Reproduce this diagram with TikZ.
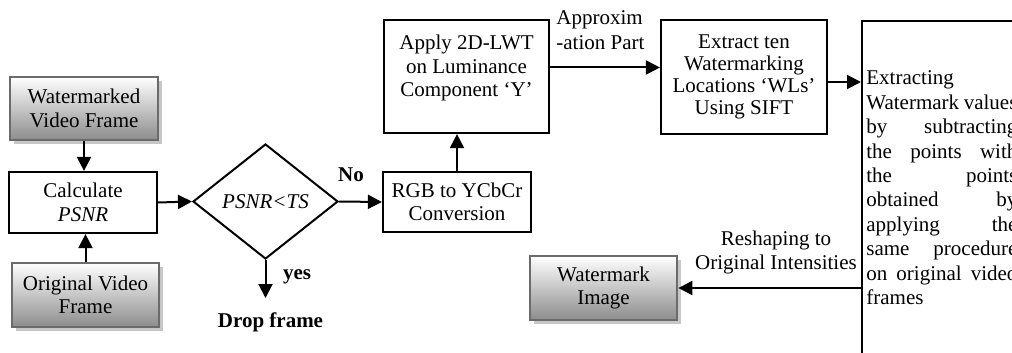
\documentclass[tikz,border=0pt]{standalone}
\usepackage{fontspec}
\setmainfont{Liberation Serif}
\usepackage{tikz}
\usetikzlibrary{arrows.meta}
\usetikzlibrary{shapes.geometric}
\usetikzlibrary{shadows}

\begin{document}
\begin{tikzpicture}[x=0.5pt, y=-0.5pt,
    font=\fontsize{10.5}{11.8}\selectfont,
    arr/.style={line width=1pt, -{Triangle[length=7pt, width=7pt]}},
    plainbox/.style={draw, line width=1.1pt, align=center, inner sep=0pt},
    greybox/.style={draw=black!58, line width=1.4pt, align=center, inner sep=0pt,
      top color=white, bottom color=black!45,
      drop shadow={shadow xshift=2pt, shadow yshift=-2pt, fill=black!22, opacity=1}}]

    \useasboundingbox (0, 0) rectangle (1012, 353);

    % input frames and the PSNR test
    \node [greybox, minimum width=74pt, minimum height=31.5pt] (wvf) at (84, 108.5) {Watermarked\\Video Frame};
    \node [plainbox, minimum width=74pt, minimum height=30.5pt] (calc) at (83, 202.5) {Calculate\\\textit{PSNR}};
    \node [greybox, minimum width=73.5pt, minimum height=32pt] (ovf) at (85.5, 295) {Original Video\\Frame};
    \node [draw, line width=1pt, diamond, aspect=1.26, minimum width=72.5pt, minimum height=57.5pt,
      inner sep=0pt] (dia) at (265.5, 201.5) {\textit{PSNR<TS}};
    \coordinate (dropend) at (265.5, 298);
    \node (yes) at (297, 277) {\textbf{yes}};
    \node (drop) at (270.5, 322) {\textbf{Drop frame}};
    \node (no) at (351, 175) {\textbf{No}};

    % transform and extraction
    \node [plainbox, minimum width=74pt, minimum height=30pt] (rgb) at (457, 202) {RGB to YCbCr\\Conversion};
    \node [plainbox, minimum width=82.5pt, minimum height=56.5pt] (lwt) at (466.5, 76.5) {};
    \node [align=center, inner sep=0pt] (lwttxt) at (466.5, 68) {Apply 2D-LWT\\on Luminance\\Component `Y'};
    \node [align=left, inner sep=0pt, font=\fontsize{10.5}{12.5}\selectfont, anchor=west] (approx) at (556, 30.5) {Approxim\\-ation Part};
    \node [plainbox, minimum width=83pt, minimum height=57pt, font=\fontsize{10.5}{11}\selectfont] (ext) at (744, 77)
      {Extract ten\\Watermarking\\Locations `WLs'\\Using SIFT};
    \node [draw, line width=1pt, anchor=north west, minimum width=90pt, minimum height=180pt, inner sep=0pt] (extr) at (861, 20) {};
    \node [anchor=base west, text width=75.5pt, align=justify, inner sep=0pt,
      font=\fontsize{10.5}{12.2}\selectfont] (extrtxt) at (866, 85)
      {Extracting\linebreak
       Watermark values\linebreak
       by subtracting\linebreak
       the points with\linebreak
       the points\linebreak
       obtained by\linebreak
       applying the\linebreak
       same procedure\linebreak
       on original video\linebreak
       frames};

    % output
    \node [greybox, minimum width=73.5pt, minimum height=32pt] (wmi) at (603.5, 288) {Watermark\\Image};
    \node [align=center, inner sep=0pt, font=\fontsize{10.5}{12}\selectfont] (reshape) at (776, 252) {Reshaping to\\Original Intensities};

    \draw [arr] (wvf.south) -- (wvf.south |- calc.north);
    \draw [arr] (ovf.north) -- (ovf.north |- calc.south);
    \draw [arr] (calc.east) -- (dia.west);
    \draw [arr] (dia.south) -- (dropend);
    \draw [arr] (dia.east) -- (rgb.west);
    \draw [arr] (rgb.north) -- (rgb.north |- lwt.south);
    \draw [arr] ([yshift=4.5pt]lwt.east) -- ([yshift=4.5pt]lwt.east -| ext.west);
    \draw [arr] ([yshift=-2.5pt]ext.east) -- ([yshift=-2.5pt]ext.east -| extr.west);
    \draw [arr] (wmi.east -| extr.west) -- (wmi.east);

\end{tikzpicture}
\end{document}
